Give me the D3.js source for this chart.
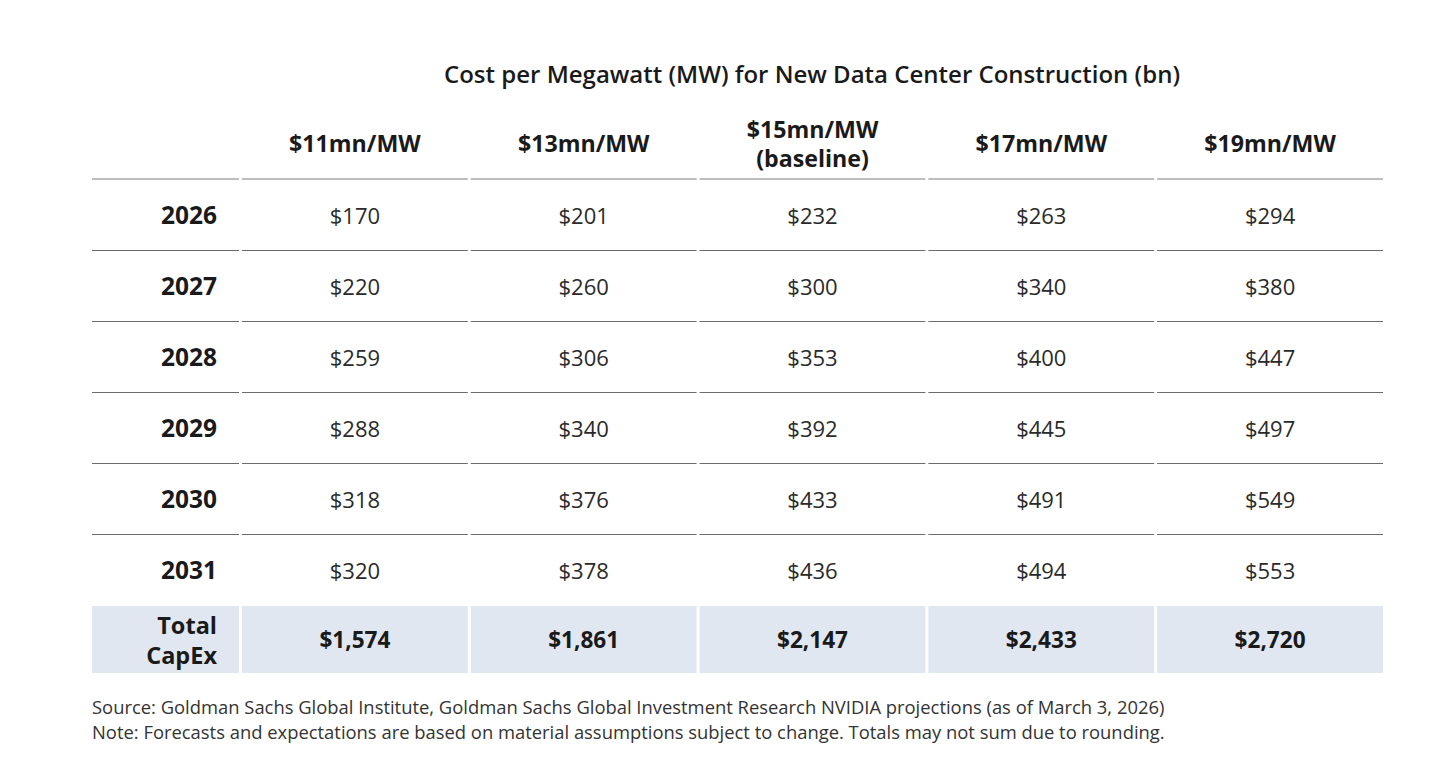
<!DOCTYPE html>
<html>
<head>
<meta charset="utf-8">
<script src="https://cdn.jsdelivr.net/npm/d3@7.9.0/dist/d3.min.js"></script>
<style>
  body { margin: 0; background: #fff; }
  svg { display: block; font-family: "Open Sans", "Noto Sans", sans-serif; }
</style>
</head>
<body>
<svg id="chart" width="1439" height="760"></svg>
<script>
const title = 'Cost per Megawatt (MW) for New Data Center Construction (bn)';
const headers = [['$11mn/MW'], ['$13mn/MW'], ['$15mn/MW', '(baseline)'], ['$17mn/MW'], ['$19mn/MW']];
const years = ['2026', '2027', '2028', '2029', '2030', '2031'];
const mw11 = [170, 220, 259, 288, 318, 320];
const mw13 = [201, 260, 306, 340, 376, 378];
const mw15 = [232, 300, 353, 392, 433, 436];
const mw17 = [263, 340, 400, 445, 491, 494];
const mw19 = [294, 380, 447, 497, 549, 553];
const totals = [1574, 1861, 2147, 2433, 2720];
const totalLabel = ['Total', 'CapEx'];
const notes = [
  'Source: Goldman Sachs Global Institute, Goldman Sachs Global Investment Research NVIDIA projections (as of March 3, 2026)',
  'Note: Forecasts and expectations are based on material assumptions subject to change. Totals may not sum due to rounding.'
];

const series = [mw11, mw13, mw15, mw17, mw19];
const fmt = d3.format('$,');

const svg = d3.select('#chart');

// columns: label column + 5 value columns
const labelCol = { x0: 92, x1: 239 };
const x = d3.scaleBand()
  .domain(d3.range(headers.length))
  .range([242, 1383])
  .paddingInner(0.013);

const rowKeys = [...years, 'Total'];
const y = d3.scaleBand()
  .domain(rowKeys)
  .range([179, 179 + 71 * rowKeys.length]);

// title
svg.append('text')
  .attr('x', 812)
  .attr('y', 73)
  .attr('text-anchor', 'middle')
  .attr('dominant-baseline', 'central')
  .attr('font-size', 24)
  .attr('font-weight', 600)
  .attr('fill', '#1a1a1a')
  .text(title);

// header labels
const head = svg.append('g');
headers.forEach((lines, i) => {
  const t = head.append('text')
    .attr('text-anchor', 'middle')
    .attr('font-size', 23.2)
    .attr('font-weight', 700)
    .attr('fill', '#1a1a1a');
  lines.forEach((l, j) => {
    t.append('tspan')
      .attr('x', x(i) + x.bandwidth() / 2)
      .attr('y', 143 + (j - (lines.length - 1) / 2) * 29)
      .attr('dominant-baseline', 'central')
      .text(l);
  });
});

// header underline segments
const segs = [labelCol, ...x.domain().map(i => ({ x0: x(i), x1: x(i) + x.bandwidth() }))];
svg.append('g').selectAll('line')
  .data(segs)
  .join('line')
  .attr('x1', d => d.x0)
  .attr('x2', d => d.x1)
  .attr('y1', y('2026'))
  .attr('y2', y('2026'))
  .attr('stroke', '#bdbdbd')
  .attr('stroke-width', 2);

// row separators
const sepRows = years.slice(1);
svg.append('g').selectAll('g')
  .data(sepRows)
  .join('g')
  .each(function (r) {
    d3.select(this).selectAll('line')
      .data(segs)
      .join('line')
      .attr('x1', d => d.x0)
      .attr('x2', d => d.x1)
      .attr('y1', y(r) + 0.5)
      .attr('y2', y(r) + 0.5)
      .attr('stroke', '#6b6b6b')
      .attr('stroke-width', 1);
  });

// total row background
svg.append('g').selectAll('rect')
  .data(segs)
  .join('rect')
  .attr('x', d => d.x0)
  .attr('width', d => d.x1 - d.x0)
  .attr('y', y('Total') + 1)
  .attr('height', 67)
  .attr('fill', '#e1e7f1');

// year labels
svg.append('g').selectAll('text')
  .data(years)
  .join('text')
  .attr('x', 217)
  .attr('y', d => y(d) + y.bandwidth() / 2)
  .attr('text-anchor', 'end')
  .attr('dominant-baseline', 'central')
  .attr('font-size', 24.5)
  .attr('font-weight', 700)
  .attr('fill', '#1a1a1a')
  .text(d => d);

// values
series.forEach((vals, i) => {
  svg.append('g').selectAll('text')
    .data(vals)
    .join('text')
    .attr('x', x(i) + x.bandwidth() / 2)
    .attr('y', (d, j) => y(years[j]) + y.bandwidth() / 2)
    .attr('text-anchor', 'middle')
    .attr('dominant-baseline', 'central')
    .attr('font-size', 22)
    .attr('fill', '#2a2a2a')
    .text(d => fmt(d));
});

// total row
const ty = y('Total') + 1 + 67 / 2;
const tl = svg.append('text')
  .attr('text-anchor', 'end')
  .attr('font-size', 23.5)
  .attr('font-weight', 700)
  .attr('fill', '#1a1a1a');
totalLabel.forEach((l, j) => {
  tl.append('tspan')
    .attr('x', 217)
    .attr('y', ty + (j - 0.5) * 30)
    .attr('dominant-baseline', 'central')
    .text(l);
});

svg.append('g').selectAll('text')
  .data(totals)
  .join('text')
  .attr('x', (d, i) => x(i) + x.bandwidth() / 2)
  .attr('y', ty)
  .attr('text-anchor', 'middle')
  .attr('dominant-baseline', 'central')
  .attr('font-size', 22.6)
  .attr('font-weight', 700)
  .attr('fill', '#1a1a1a')
  .text(d => fmt(d));

// notes
svg.append('g').selectAll('text')
  .data(notes)
  .join('text')
  .attr('x', 92)
  .attr('y', (d, i) => 706 + i * 25)
  .attr('dominant-baseline', 'central')
  .attr('font-size', 18.4)
  .attr('fill', '#333')
  .text(d => d);
</script>
</body>
</html>
